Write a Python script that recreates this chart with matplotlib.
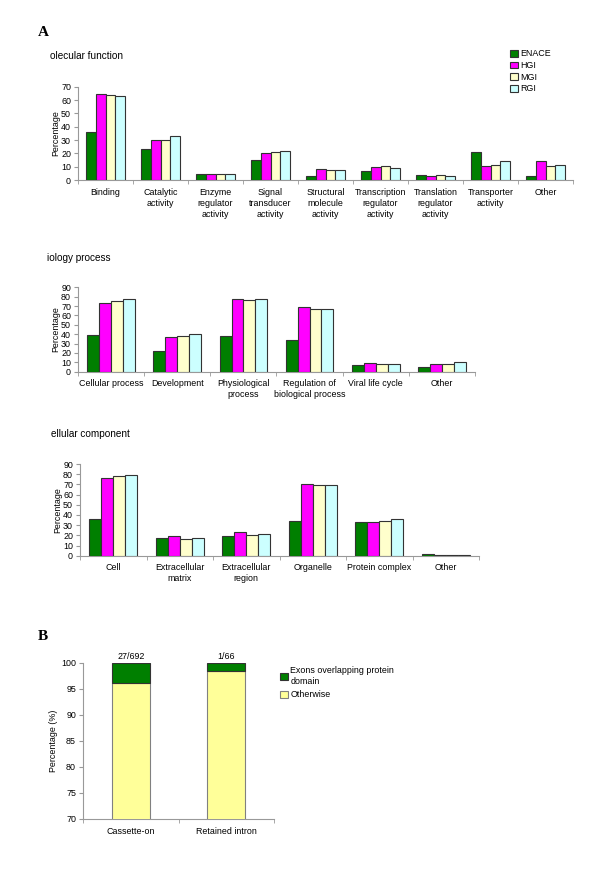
import matplotlib
matplotlib.use("Agg")
import matplotlib.pyplot as plt
import numpy as np

plt.rcParams['font.family'] = ['Liberation Sans', 'DejaVu Sans']

series = ['ENACE', 'HGI', 'MGI', 'RGI']
colors = ['#007F00', '#FF00FF', '#FFFFCC', '#CCFFFF']

# molecular function
mf_cats = ['Binding', 'Catalytic\nactivity', 'Enzyme\nregulator\nactivity',
           'Signal\ntransducer\nactivity', 'Structural\nmolecule\nactivity',
           'Transcription\nregulator\nactivity', 'Translation\nregulator\nactivity',
           'Transporter\nactivity', 'Other']
mf_enace = [35.8, 23.5, 4.3, 14.8, 2.8, 6.8, 3.5, 21.0, 3.0]
mf_hgi = [64.5, 29.8, 4.3, 20.5, 8.0, 9.8, 2.8, 10.3, 14.0]
mf_mgi = [64.0, 30.3, 4.3, 21.0, 7.8, 10.3, 3.5, 11.0, 10.5]
mf_rgi = [63.0, 32.8, 4.8, 21.5, 7.8, 8.8, 3.0, 14.0, 11.5]

# biology process
bp_cats = ['Cellular process', 'Development', 'Physiological\nprocess',
           'Regulation of\nbiological process', 'Viral life cycle', 'Other']
bp_enace = [39.5, 22.4, 37.7, 33.8, 7.5, 4.6]
bp_hgi = [73.3, 37.0, 77.6, 68.7, 9.3, 8.5]
bp_mgi = [75.4, 37.7, 76.9, 66.9, 8.2, 8.5]
bp_rgi = [77.9, 40.2, 77.6, 66.9, 8.2, 10.0]

# cellular component
cc_cats = ['Cell', 'Extracellular\nmatrix', 'Extracellular\nregion', 'Organelle',
           'Protein complex', 'Other']
cc_enace = [36.0, 17.7, 19.0, 33.7, 32.7, 1.6]
cc_hgi = [76.6, 19.3, 23.2, 70.7, 32.7, 0.4]
cc_mgi = [78.2, 16.4, 20.3, 69.4, 33.7, 0.4]
cc_rgi = [78.9, 17.0, 21.3, 69.4, 36.0, 0.4]

# panel B
b_cats = ['Cassette-on', 'Retained intron']
b_otherwise = [96.1, 98.5]
b_domain = [3.9, 1.5]
b_counts = ['27/692', '1/66']

W, H = 600, 874
FS = 6.4
fig = plt.figure(figsize=(6, 8.74), dpi=100)


def box(l, r, t, b):
    return [l / W, 1 - b / H, (r - l) / W, (b - t) / H]


def style(ax, n):
    for s in ['top', 'right']:
        ax.spines[s].set_visible(False)
    for s in ['left', 'bottom']:
        ax.spines[s].set_color('#999999')
        ax.spines[s].set_linewidth(0.8)
    ax.set_xlim(-0.5, n - 0.5)
    ax.set_xticks(np.arange(n))
    ax.set_xticks(np.arange(n + 1) - 0.5, minor=True)
    ax.tick_params(axis='x', which='major', length=0, labelsize=FS, pad=5.5)
    ax.tick_params(axis='x', which='minor', length=3, color='#999999')
    ax.tick_params(axis='y', length=3, color='#999999', labelsize=FS, pad=2)
    ax.set_ylabel('Percentage', fontsize=FS, labelpad=0.5)


def grouped(ax, cats, vals, ymax):
    n = len(cats)
    x = np.arange(n)
    w = 0.18
    for i, v in enumerate(vals):
        ax.bar(x + (i - 1.5) * w, v, w, color=colors[i], edgecolor='#333333',
               linewidth=0.8, label=series[i], zorder=3)
    style(ax, n)
    ax.set_ylim(0, ymax)
    ax.set_yticks(np.arange(0, ymax + 1, 10))
    ax.set_xticklabels(cats, linespacing=1.3)


ax1 = fig.add_axes(box(78, 573, 86.7, 180))
grouped(ax1, mf_cats, [mf_enace, mf_hgi, mf_mgi, mf_rgi], 70)
ax1.legend(loc='upper left', bbox_to_anchor=(506 / W, 1 - 45 / H),
           bbox_transform=fig.transFigure, frameon=False, fontsize=FS,
           handlelength=0.8, handleheight=0.8, handletextpad=0.3,
           labelspacing=0.3, borderpad=0)

ax2 = fig.add_axes(box(78, 475, 287.3, 371.7))
grouped(ax2, bp_cats, [bp_enace, bp_hgi, bp_mgi, bp_rgi], 90)

ax3 = fig.add_axes(box(80, 479, 464, 555.7))
grouped(ax3, cc_cats, [cc_enace, cc_hgi, cc_mgi, cc_rgi], 90)

fig.text(38 / W, 1 - 33 / H, 'A', fontsize=11, fontweight='bold',
         family='Liberation Serif', va='center')
fig.text(50 / W, 1 - 56 / H, 'olecular function', fontsize=7.2, va='center')
fig.text(47 / W, 1 - 258 / H, 'iology process', fontsize=7.2, va='center')
fig.text(51 / W, 1 - 434 / H, 'ellular component', fontsize=7.2, va='center')

# panel B
axb = fig.add_axes(box(83, 274, 663, 819))
xb = np.arange(len(b_cats))
axb.bar(xb, b_otherwise, 0.4, color='#FFFF99', edgecolor='#808080',
        linewidth=0.8, label='Otherwise', zorder=3)
axb.bar(xb, b_domain, 0.4, bottom=b_otherwise, color='#007F00',
        edgecolor='#333333', linewidth=0.8,
        label='Exons overlapping protein\ndomain', zorder=3)
style(axb, len(b_cats))
axb.set_ylim(70, 100)
axb.set_yticks(np.arange(70, 101, 5))
axb.set_xticklabels(b_cats)
axb.set_ylabel('Percentage (%)', fontsize=FS, labelpad=2)
for xi, t in zip(xb, b_counts):
    axb.text(xi, 100.3, t, ha='center', va='bottom', fontsize=FS)
h, l = axb.get_legend_handles_labels()
axb.legend(h[::-1], l[::-1], loc='upper left', bbox_to_anchor=(276 / W, 1 - 662 / H),
           bbox_transform=fig.transFigure, frameon=False, fontsize=FS,
           handlelength=0.8, handleheight=0.8, handletextpad=0.3,
           labelspacing=0.5, borderpad=0)
fig.text(38 / W, 1 - 637 / H, 'B', fontsize=11, fontweight='bold',
         family='Liberation Serif', va='center')

fig.savefig('out.png', dpi=100)
